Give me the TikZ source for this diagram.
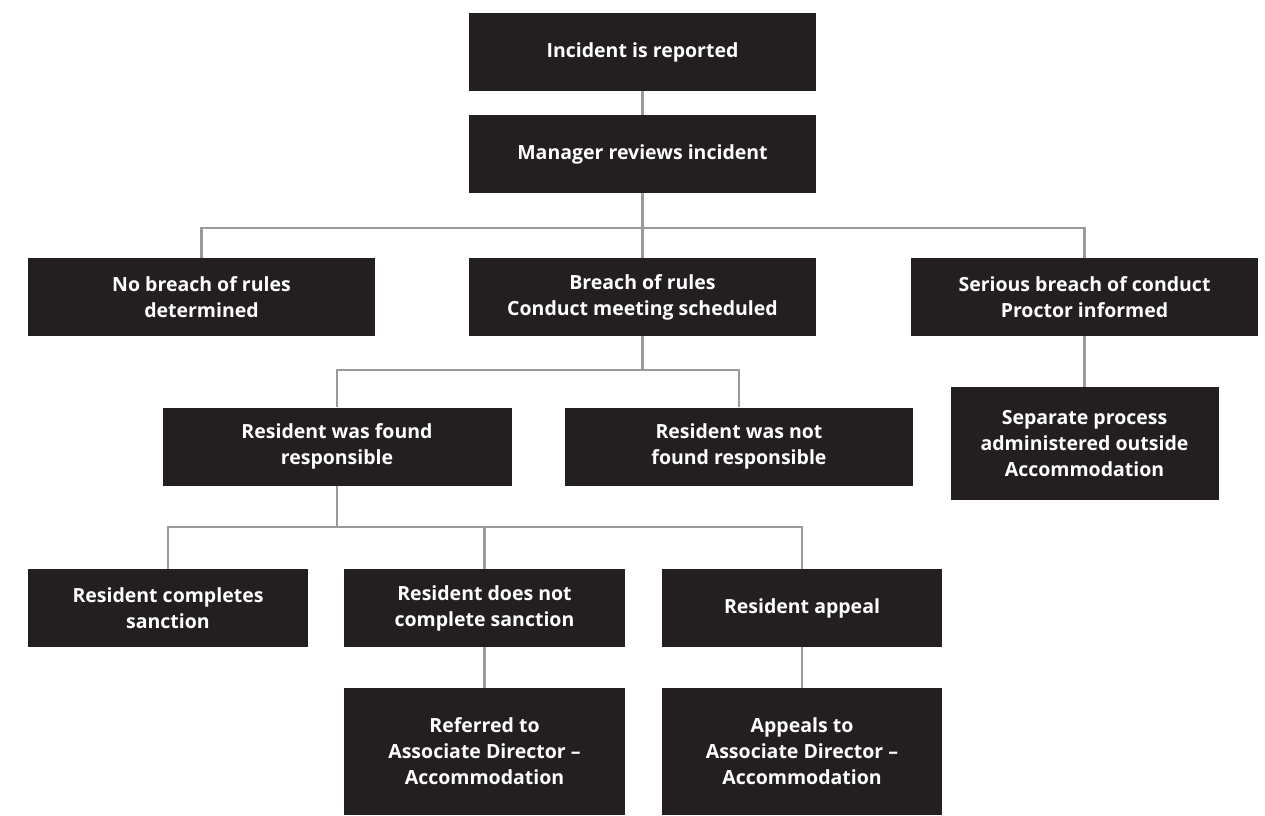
\documentclass[tikz,border=0pt]{standalone}
\usepackage{fontspec}
\setmainfont{Open Sans}
\definecolor{boxfill}{HTML}{231F20}
\definecolor{linkgray}{HTML}{9A9A9A}
\tikzset{
    stage/.style={fill=boxfill, text=white, font=\fontsize{19.5}{26}\selectfont\bfseries,
        align=center, inner sep=0pt, minimum width=347pt, minimum height=78pt},
    link/.style={draw=linkgray, line width=2.2pt}
}
\begin{document}
\begin{tikzpicture}[x=1pt,y=-1pt]
    \useasboundingbox (0,0) rectangle (1265,815);

    \node[stage] (report) at (642.5,52) {Incident is reported};
    \node[stage] (review) at (642.5,154) {Manager reviews incident};

    \node[stage] (nobreach) at (201.5,297) {No breach of rules\\determined};
    \node[stage] (breach) at (642.5,297) {Breach of rules\\Conduct meeting scheduled};
    \node[stage] (serious) at (1084.5,297) {Serious breach of conduct\\Proctor informed};
    \node[stage, minimum width=268pt, minimum height=113pt] (separate) at (1084.5,443.5)
        {Separate process\\administered outside\\Accommodation};

    \node[stage, minimum width=349pt] (found) at (337,446.5) {Resident was found\\responsible};
    \node[stage, minimum width=348pt] (notfound) at (739,446.5) {Resident was not\\found responsible};

    \node[stage, minimum width=280pt] (completes) at (168,608) {Resident completes\\sanction};
    \node[stage, minimum width=281pt] (notcomplete) at (484.5,608) {Resident does not\\complete sanction};
    \node[stage, minimum width=280pt] (appeal) at (802,608) {Resident appeal};

    \node[stage, minimum width=281pt, minimum height=127pt] (referred) at (484.5,751.5)
        {Referred to\\Associate Director –\\Accommodation};
    \node[stage, minimum width=280pt, minimum height=127pt] (appeals) at (802,751.5)
        {Appeals to\\Associate Director –\\Accommodation};

    \coordinate (split1) at (642.5,228);
    \coordinate (split2) at (642.5,370);
    \coordinate (split3) at (337,527);

    \draw[link] (report) -- (review);
    \draw[link] (review) -- (split1);
    \draw[link] (split1) -| (nobreach);
    \draw[link] (split1) -- (breach);
    \draw[link] (split1) -| (serious);
    \draw[link] (serious) -- (separate);

    \draw[link] (breach) -- (split2);
    \draw[link] (split2) -| (found);
    \draw[link] (split2) -| (notfound);

    \draw[link] (found) -- (split3);
    \draw[link] (split3) -| (completes);
    \draw[link] (split3) -| (notcomplete);
    \draw[link] (split3) -| (appeal);

    \draw[link] (notcomplete) -- (referred);
    \draw[link] (appeal) -- (appeals);
\end{tikzpicture}
\end{document}
